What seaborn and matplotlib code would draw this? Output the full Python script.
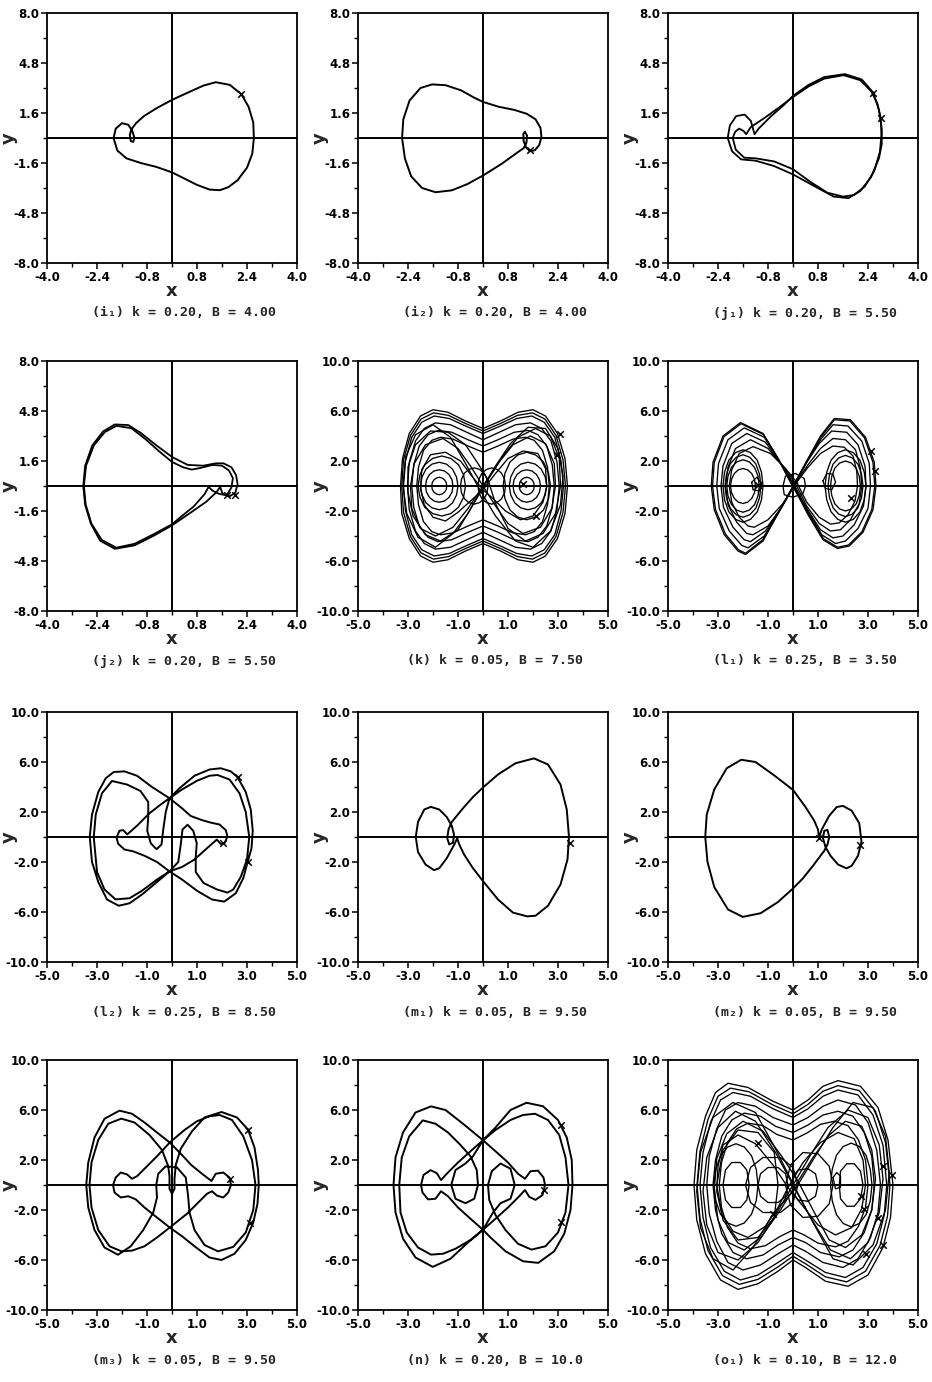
import matplotlib
matplotlib.use("Agg")
import matplotlib.pyplot as plt
import pandas as pd
import seaborn as sns
from matplotlib.ticker import MultipleLocator

I1 = [(2.22,2.8),(2.45,2.0),(2.6,1.0),(2.62,0.0),(2.57,-1.0),(2.4,-1.9),(2.1,-2.7),(1.8,-3.15),
      (1.53,-3.34),(1.2,-3.3),(0.8,-3.0),(0.35,-2.55),(0.0,-2.2),(-0.5,-1.85),(-1.0,-1.6),(-1.46,-1.3),
      (-1.75,-0.8),(-1.87,0.0),(-1.8,0.6),(-1.6,0.95),(-1.4,0.85),(-1.27,0.45),(-1.2,0.0),(-1.24,-0.25),
      (-1.32,-0.2),(-1.35,0.2),(-1.3,0.55),(-1.15,0.95),(-0.9,1.4),(-0.5,1.9),(0.0,2.44),(0.5,2.9),
      (1.0,3.35),(1.4,3.57),(1.85,3.4),(2.22,2.8)]
I1_MARK = [(2.22,2.8)]

I2 = [(-2.59,0),(-2.55,1.2),(-2.35,2.4),(-2.0,3.2),(-1.63,3.43),(-1.2,3.38),(-0.7,3.05),(-0.3,2.6),
      (0.0,2.31),(0.5,2.0),(1.0,1.8),(1.4,1.55),(1.68,1.2),(1.84,0.65),(1.87,0.05),(1.8,-0.45),
      (1.66,-0.78),(1.5,-0.85),(1.38,-0.6),(1.3,-0.2),(1.29,0.25),(1.34,0.4),(1.41,0.15),(1.39,-0.3),
      (1.3,-0.65),(1.05,-1.0),(0.6,-1.65),(0.0,-2.4),(-0.5,-2.95),(-1.0,-3.35),(-1.52,-3.47),
      (-1.95,-3.2),(-2.3,-2.45),(-2.5,-1.3),(-2.59,0)]
I2_MARK = [(1.5,-0.75)]

J1_A = [(2.57,2.9),(2.75,1.8),(2.84,0.6),(2.84,-0.4),(2.75,-1.3),(2.5,-2.5),(2.15,-3.4),(1.77,-3.85),
        (1.3,-3.75),(0.7,-3.1),(0.0,-2.33),(-0.6,-1.8),(-1.2,-1.45),(-1.66,-1.37),(-1.95,-0.85),
        (-2.09,0.0),(-2.02,0.8),(-1.82,1.4),(-1.55,1.5),(-1.35,1.1),(-1.23,0.24),(-1.1,0.6),(-0.7,1.4),
        (-0.3,2.1),(0.0,2.7),(0.5,3.4),(1.0,3.9),(1.66,4.09),(2.2,3.75),(2.57,2.9)]
J1_B = [(2.81,1.26),(2.83,0.2),(2.78,-0.9),(2.6,-2.1),(2.3,-3.1),(1.95,-3.65),(1.6,-3.75),(1.1,-3.5),
        (0.55,-2.8),(0.0,-2.0),(-0.6,-1.5),(-1.2,-1.3),(-1.56,-1.26),(-1.83,-0.75),(-1.93,0.0),
        (-1.85,0.4),(-1.72,0.6),(-1.58,0.45),(-1.5,0.24),(-1.35,0.7),(-0.9,1.3),(-0.45,1.95),(0.0,2.62),
        (0.5,3.3),(1.0,3.8),(1.62,4.02),(2.15,3.7),(2.5,3.0),(2.7,2.2),(2.81,1.26)]
J1_MARK = [(2.57,2.9),(2.81,1.26)]

J2_A = [(-2.84,0),(-2.78,1.3),(-2.55,2.6),(-2.2,3.5),(-1.83,3.94),(-1.4,3.9),(-1.0,3.4),(-0.5,2.6),
        (0.0,1.86),(0.5,1.35),(1.0,1.3),(1.4,1.45),(1.65,1.45),(1.9,1.2),(2.05,0.7),(2.1,0.1),
        (2.02,-0.45),(1.85,-0.65),(1.62,-0.5),(1.54,-0.06),(1.42,-0.4),(1.1,-1.0),(0.6,-1.7),(0.0,-2.52),
        (-0.6,-3.2),(-1.2,-3.8),(-1.83,-4.02),(-2.3,-3.5),(-2.6,-2.4),(-2.78,-1.2),(-2.84,0)]
J2_B = [(-2.82,0),(-2.75,1.3),(-2.5,2.6),(-2.15,3.45),(-1.78,3.85),(-1.3,3.7),(-0.85,3.0),(-0.4,2.2),
        (0.0,1.54),(0.35,1.2),(0.63,1.05),(0.9,1.15),(1.3,1.35),(1.6,1.3),(1.82,1.0),(1.95,0.5),
        (1.9,-0.1),(1.75,-0.6),(1.5,-0.5),(1.3,-0.3),(1.17,-0.06),(1.05,-0.5),(0.7,-1.3),(0.3,-1.95),
        (0.0,-2.45),(-0.6,-3.1),(-1.2,-3.7),(-1.78,-3.95),(-2.25,-3.45),(-2.58,-2.4),(-2.76,-1.2),(-2.82,0)]
J2_MARK = [(1.75,-0.6),(2.02,-0.6)]

# (k) chaotic: bow-tie rings, figure-eights and well loops
K_R1 = [(3.38,0),(3.28,-2.2),(2.98,-4.2),(2.5,-5.6),(2.0,-6.1),(1.4,-5.9),(0.7,-5.2),(0,-4.6),(-0.7,-5.2),
        (-1.4,-5.9),(-2.0,-6.1),(-2.5,-5.6),(-2.95,-4.2),(-3.25,-2.2),(-3.3,0),(-3.22,2.2),(-2.95,4.2),
        (-2.5,5.6),(-2.0,6.1),(-1.4,5.9),(-0.7,5.2),(0,4.6),(0.7,5.2),(1.4,5.9),(2.0,6.1),(2.5,5.6),
        (2.98,4.2),(3.28,2.2),(3.38,0)]
K_R2 = [(3.22,0),(3.12,-2.0),(2.87,-3.9),(2.45,-5.1),(1.95,-5.6),(1.35,-5.4),(0.7,-4.8),(0,-4.2),
        (-0.7,-4.8),(-1.35,-5.4),(-1.95,-5.6),(-2.45,-5.1),(-2.85,-3.9),(-3.1,-2.0),(-3.18,0),(-3.1,2.0),
        (-2.85,3.9),(-2.45,5.1),(-1.95,5.6),(-1.35,5.4),(-0.7,4.8),(0,4.2),(0.7,4.8),(1.35,5.4),
        (1.95,5.6),(2.45,5.1),(2.87,3.9),(3.12,2.0),(3.22,0)]
K_R3 = [(3.05,0),(2.96,-1.9),(2.72,-3.6),(2.35,-4.6),(1.9,-5.05),(1.3,-4.9),(0.65,-4.3),(0,-3.7),
        (-0.65,-4.3),(-1.3,-4.9),(-1.9,-5.05),(-2.35,-4.6),(-2.7,-3.6),(-2.95,-1.9),(-3.02,0),(-2.95,1.9),
        (-2.7,3.6),(-2.35,4.6),(-1.9,5.05),(-1.3,4.9),(-0.65,4.3),(0,3.7),(0.65,4.3),(1.3,4.9),
        (1.9,5.05),(2.35,4.6),(2.72,3.6),(2.96,1.9),(3.05,0)]
K_R4 = [(2.85,0),(2.77,-1.7),(2.55,-3.2),(2.2,-4.1),(1.8,-4.45),(1.25,-4.3),(0.6,-3.7),(0,-3.2),
        (-0.6,-3.7),(-1.25,-4.3),(-1.8,-4.45),(-2.2,-4.1),(-2.55,-3.2),(-2.77,-1.7),(-2.85,0),
        (-2.77,1.7),(-2.55,3.2),(-2.2,4.1),(-1.8,4.45),(-1.25,4.3),(-0.6,3.7),(0,3.2),(0.6,3.7),
        (1.25,4.3),(1.8,4.45),(2.2,4.1),(2.55,3.2),(2.77,1.7),(2.85,0)]
K_R5 = [(3.3,0),(3.2,-2.1),(2.92,-4.05),(2.48,-5.35),(1.98,-5.85),(1.38,-5.65),(0.7,-5.0),(0,-4.4),
        (-0.7,-5.0),(-1.38,-5.65),(-1.98,-5.85),(-2.48,-5.35),(-2.9,-4.05),(-3.18,-2.1),(-3.25,0),
        (-3.18,2.1),(-2.9,4.05),(-2.48,5.35),(-1.98,5.85),(-1.38,5.65),(-0.7,5.0),(0,4.4),(0.7,5.0),
        (1.38,5.65),(1.98,5.85),(2.48,5.35),(2.92,4.05),(3.2,2.1),(3.3,0)]
K_R6 = [(2.65,0),(2.58,-1.5),(2.38,-2.85),(2.05,-3.65),(1.7,-3.9),(1.2,-3.75),(0.6,-3.2),(0,-2.7),
        (-0.6,-3.2),(-1.2,-3.75),(-1.7,-3.9),(-2.05,-3.65),(-2.38,-2.85),(-2.58,-1.5),(-2.65,0),
        (-2.58,1.5),(-2.38,2.85),(-2.05,3.65),(-1.7,3.9),(-1.2,3.75),(-0.6,3.2),(0,2.7),(0.6,3.2),
        (1.2,3.75),(1.7,3.9),(2.05,3.65),(2.38,2.85),(2.58,1.5),(2.65,0)]
K_F1 = [(0,0),(0.6,1.8),(1.2,3.3),(1.9,4.0),(2.5,3.4),(2.85,1.8),(2.9,0),(2.75,-1.8),(2.3,-3.3),
        (1.6,-3.8),(1.0,-3.0),(0.5,-1.6),(0,0),(-0.5,1.6),(-1.0,3.0),(-1.6,3.8),(-2.3,3.3),(-2.75,1.8),
        (-2.9,0),(-2.85,-1.8),(-2.5,-3.4),(-1.9,-4.0),(-1.2,-3.3),(-0.6,-1.8),(0,0)]
K_F2 = [(0.2,0.5),(0.8,2.4),(1.4,3.9),(2.1,4.6),(2.7,4.0),(3.05,2.2),(3.1,0),(2.9,-2.2),(2.4,-3.8),
        (1.7,-4.4),(1.0,-3.4),(0.5,-1.4),(0.2,0.5),(-0.2,1.8),(-0.7,3.3),(-1.4,4.3),(-2.1,4.4),
        (-2.7,3.3),(-3.0,1.5),(-3.0,-0.5),(-2.8,-2.4),(-2.3,-3.9),(-1.7,-4.4),(-1.0,-3.5),(-0.4,-1.5),(0.2,0.5)]
K_F3 = [(0,-0.3),(0.5,1.0),(1.0,2.2),(1.6,2.8),(2.2,2.6),(2.5,1.4),(2.55,0),(2.4,-1.3),(2.0,-2.4),
        (1.5,-2.7),(0.9,-2.0),(0.4,-1.0),(0,-0.3),(-0.45,0.8),(-0.9,2.0),(-1.5,2.7),(-2.1,2.5),
        (-2.45,1.3),(-2.5,-0.2),(-2.35,-1.5),(-2.0,-2.5),(-1.5,-2.8),(-1.0,-2.1),(-0.5,-1.2),(0,-0.3)]
K_F4 = [(-0.1,-0.4),(0.5,1.6),(1.1,3.4),(1.8,4.7),(2.5,4.6),(3.0,3.0),(3.2,0.8),(3.1,-1.5),(2.7,-3.6),
        (2.0,-4.9),(1.3,-4.4),(0.5,-2.4),(-0.1,-0.4),(-0.7,1.8),(-1.3,3.9),(-2.0,4.9),(-2.7,4.1),
        (-3.1,2.3),(-3.2,0),(-3.05,-2.2),(-2.6,-4.1),(-1.9,-4.9),(-1.2,-3.8),(-0.6,-2.2),(-0.1,-0.4)]
K_O1 = [(-1.2,0),(-1.24,0.49),(-1.36,0.92),(-1.54,1.2),(-1.75,1.3),(-1.96,1.2),(-2.14,0.92),(-2.26,0.49),
        (-2.3,0),(-2.26,-0.49),(-2.14,-0.92),(-1.96,-1.2),(-1.75,-1.3),(-1.54,-1.2),(-1.36,-0.92),
        (-1.24,-0.49),(-1.2,0)]
K_O2 = [(-1.45,0),(-1.47,0.27),(-1.54,0.5),(-1.64,0.64),(-1.75,0.7),(-1.86,0.64),(-1.96,0.5),(-2.03,0.27),
        (-2.05,0),(-2.03,-0.27),(-1.96,-0.5),(-1.86,-0.64),(-1.75,-0.7),(-1.64,-0.64),(-1.54,-0.5),
        (-1.47,-0.27),(-1.45,0)]
K_O3 = [(-0.7,0),(-0.78,0.91),(-0.98,1.7),(-1.29,2.21),(-1.65,2.4),(-2.01,2.21),(-2.33,1.7),(-2.52,0.91),
        (-2.6,0),(-2.52,-0.91),(-2.33,-1.7),(-2.01,-2.21),(-1.65,-2.4),(-1.29,-2.21),(-0.98,-1.7),
        (-0.78,-0.91),(-0.7,0)]
K_O4 = [(2.3,0),(2.26,0.49),(2.14,0.92),(1.96,1.2),(1.75,1.3),(1.54,1.2),(1.36,0.92),(1.24,0.49),(1.2,0),
        (1.24,-0.49),(1.36,-0.92),(1.54,-1.2),(1.75,-1.3),(1.96,-1.2),(2.14,-0.92),(2.26,-0.49),(2.3,0)]
K_O5 = [(2.05,0),(2.03,0.27),(1.96,0.5),(1.86,0.64),(1.75,0.7),(1.64,0.64),(1.54,0.5),(1.47,0.27),
        (1.45,0),(1.47,-0.27),(1.54,-0.5),(1.64,-0.64),(1.75,-0.7),(1.86,-0.64),(1.96,-0.5),(2.03,-0.27),(2.05,0)]
K_O6 = [(2.7,0),(2.62,1.03),(2.42,1.92),(2.11,2.48),(1.75,2.7),(1.39,2.48),(1.08,1.92),(0.88,1.03),
        (0.8,0),(0.88,-1.03),(1.08,-1.92),(1.39,-2.48),(1.75,-2.7),(2.11,-2.48),(2.42,-1.92),(2.62,-1.03),(2.7,0)]
K_O7 = [(0.2,0),(0.16,0.55),(0.04,1.03),(-0.14,1.33),(-0.35,1.45),(-0.56,1.33),(-0.74,1.03),(-0.86,0.55),
        (-0.9,0),(-0.86,-0.55),(-0.74,-1.03),(-0.56,-1.33),(-0.35,-1.45),(-0.14,-1.33),(0.04,-1.03),
        (0.16,-0.55),(0.2,0)]
K_O8 = [(0.9,0),(0.86,0.55),(0.74,1.03),(0.56,1.33),(0.35,1.45),(0.14,1.33),(-0.04,1.03),(-0.16,0.55),
        (-0.2,0),(-0.16,-0.55),(-0.04,-1.03),(0.14,-1.33),(0.35,-1.45),(0.56,-1.33),(0.74,-1.03),
        (0.86,-0.55),(0.9,0)]
K_O9 = [(2.55,0),(2.49,0.72),(2.33,1.35),(2.09,1.75),(1.8,1.9),(1.51,1.75),(1.27,1.35),(1.11,0.72),
        (1.05,0),(1.11,-0.72),(1.27,-1.35),(1.51,-1.75),(1.8,-1.9),(2.09,-1.75),(2.33,-1.35),(2.49,-0.72),(2.55,0)]
K_O10 = [(-1.0,0),(-1.06,0.72),(-1.22,1.35),(-1.46,1.75),(-1.75,1.9),(-2.04,1.75),(-2.28,1.35),
         (-2.44,0.72),(-2.5,0),(-2.44,-0.72),(-2.28,-1.35),(-2.04,-1.75),(-1.75,-1.9),(-1.46,-1.75),
         (-1.22,-1.35),(-1.06,-0.72),(-1.0,0)]
K_MARK = [(3.08,4.2),(2.95,2.5),(2.1,-2.4),(1.6,0.2)]

# (l1) chaotic: nested figure-eights and well loops
L1_F1 = [(0,0),(0.6,2.2),(1.1,4.0),(1.65,5.4),(2.3,5.3),(2.9,3.9),(3.25,1.9),(3.32,0),(3.2,-1.9),
         (2.8,-3.7),(2.25,-4.8),(1.78,-5.0),(1.2,-4.3),(0.6,-2.3),(0,0),(-0.6,2.2),(-1.2,4.2),
         (-2.1,5.08),(-2.8,4.0),(-3.2,1.9),(-3.27,0),(-3.15,-1.9),(-2.75,-3.9),(-2.2,-5.2),(-1.9,-5.48),
         (-1.2,-4.4),(-0.6,-2.2),(0,0)]
L1_F1B = [(0.03,0.05),(0.62,2.15),(1.12,3.92),(1.66,5.3),(2.28,5.2),(2.86,3.85),(3.2,1.88),(3.27,0),
          (3.15,-1.88),(2.76,-3.65),(2.22,-4.72),(1.78,-4.9),(1.22,-4.22),(0.62,-2.25),(0.03,0.05),
          (-0.58,2.15),(-1.18,4.12),(-2.08,4.98),(-2.76,3.95),(-3.15,1.88),(-3.22,0),(-3.1,-1.88),
          (-2.7,-3.85),(-2.18,-5.1),(-1.9,-5.38),(-1.22,-4.32),(-0.58,-2.15),(0.03,0.05)]
L1_F2 = [(0.05,0.1),(0.6,2.1),(1.1,3.7),(1.6,4.9),(2.2,4.8),(2.75,3.6),(3.05,1.8),(3.1,0),(3.0,-1.8),
         (2.6,-3.4),(2.1,-4.4),(1.7,-4.6),(1.15,-3.9),(0.6,-2.0),(0.05,0.1),(-0.55,2.0),(-1.15,3.9),
         (-1.95,4.65),(-2.6,3.7),(-2.98,1.8),(-3.05,0),(-2.95,-1.8),(-2.55,-3.6),(-2.05,-4.75),
         (-1.8,-4.95),(-1.15,-4.0),(-0.55,-2.0),(0.05,0.1)]
L1_F3 = [(0,-0.1),(0.55,1.9),(1.05,3.4),(1.55,4.4),(2.15,4.3),(2.6,3.3),(2.88,1.6),(2.92,0),(2.82,-1.6),
         (2.45,-3.1),(2.0,-4.0),(1.6,-4.15),(1.1,-3.5),(0.55,-1.8),(0,-0.1),(-0.5,1.8),(-1.1,3.5),
         (-1.85,4.2),(-2.45,3.4),(-2.8,1.6),(-2.88,0),(-2.78,-1.7),(-2.4,-3.3),(-1.95,-4.3),(-1.7,-4.45),
         (-1.1,-3.6),(-0.5,-1.8),(0,-0.1)]
L1_F4 = [(0.1,0.2),(0.6,1.7),(1.1,3.0),(1.6,3.8),(2.1,3.7),(2.5,2.9),(2.7,1.4),(2.75,0),(2.65,-1.4),
         (2.3,-2.7),(1.9,-3.5),(1.5,-3.6),(1.05,-3.0),(0.55,-1.6),(0.1,0.2),(-0.4,1.6),(-1.0,3.0),
         (-1.7,3.7),(-2.3,3.0),(-2.6,1.5),(-2.7,0),(-2.6,-1.5),(-2.25,-2.9),(-1.85,-3.8),(-1.6,-3.9),
         (-1.0,-3.2),(-0.45,-1.7),(0.1,0.2)]
L1_F5 = [(0.15,0.3),(0.6,1.5),(1.1,2.6),(1.6,3.2),(2.05,3.1),(2.4,2.4),(2.55,1.2),(2.58,0),(2.48,-1.2),
         (2.2,-2.3),(1.85,-2.95),(1.5,-3.05),(1.05,-2.5),(0.55,-1.3),(0.15,0.3),(-0.3,1.4),(-0.9,2.6),
         (-1.6,3.15),(-2.15,2.6),(-2.45,1.3),(-2.55,0),(-2.45,-1.3),(-2.15,-2.5),(-1.8,-3.2),(-1.55,-3.3),
         (-1.0,-2.7),(-0.4,-1.4),(0.15,0.3)]
L1_O1 = [(-1.2,0),(-1.26,1.1),(-1.43,2.06),(-1.7,2.67),(-2.0,2.9),(-2.3,2.67),(-2.57,2.06),(-2.74,1.1),
         (-2.8,0),(-2.74,-1.1),(-2.57,-2.06),(-2.3,-2.67),(-2.0,-2.9),(-1.7,-2.67),(-1.43,-2.06),
         (-1.26,-1.1),(-1.2,0)]
L1_O2 = [(-1.35,0),(-1.4,0.8),(-1.54,1.49),(-1.75,1.93),(-2.0,2.1),(-2.25,1.93),(-2.46,1.49),(-2.6,0.8),
         (-2.65,0),(-2.6,-0.8),(-2.46,-1.49),(-2.25,-1.93),(-2.0,-2.1),(-1.75,-1.93),(-1.54,-1.49),
         (-1.4,-0.8),(-1.35,0)]
L1_O3 = [(-1.5,0),(-1.54,0.53),(-1.65,0.99),(-1.81,1.29),(-2.0,1.4),(-2.19,1.29),(-2.35,0.99),(-2.46,0.53),
         (-2.5,0),(-2.46,-0.53),(-2.35,-0.99),(-2.19,-1.29),(-2.0,-1.4),(-1.81,-1.29),(-1.65,-0.99),
         (-1.54,-0.53),(-1.5,0)]
L1_O4 = [(2.92,0),(2.85,1.1),(2.68,2.06),(2.41,2.67),(2.1,2.9),(1.79,2.67),(1.52,2.06),(1.35,1.1),(1.28,0),
         (1.35,-1.1),(1.52,-2.06),(1.79,-2.67),(2.1,-2.9),(2.41,-2.67),(2.68,-2.06),(2.85,-1.1),(2.92,0)]
L1_O5 = [(2.7,0),(2.65,0.76),(2.53,1.42),(2.33,1.84),(2.1,2.0),(1.87,1.84),(1.67,1.42),(1.55,0.76),(1.5,0),
         (1.55,-0.76),(1.67,-1.42),(1.87,-1.84),(2.1,-2.0),(2.33,-1.84),(2.53,-1.42),(2.65,-0.76),(2.7,0)]
L1_O6 = [(1.2,0.4),(1.35,1.0),(1.6,0.95),(1.7,0.3),(1.55,-0.3),(1.3,-0.2),(1.2,0.4)]
L1_O7 = [(-1.65,0.3),(-1.45,0.7),(-1.25,0.2),(-1.35,-0.4),(-1.6,-0.3),(-1.65,0.3)]
L1_O8 = [(-0.4,0),(-0.3,0.8),(0.1,1.0),(0.45,0.6),(0.5,0),(0.4,-0.6),(0.0,-0.9),(-0.35,-0.7),(-0.4,0)]
L1_O9 = [(2.8,0),(2.74,0.93),(2.6,1.74),(2.37,2.25),(2.1,2.45),(1.83,2.25),(1.6,1.74),(1.46,0.93),(1.4,0),
         (1.46,-0.93),(1.6,-1.74),(1.83,-2.25),(2.1,-2.45),(2.37,-2.25),(2.6,-1.74),(2.74,-0.93),(2.8,0)]
L1_O10 = [(-1.28,0),(-1.34,0.95),(-1.49,1.78),(-1.73,2.3),(-2.0,2.5),(-2.27,2.3),(-2.51,1.78),(-2.66,0.95),
          (-2.72,0),(-2.66,-0.95),(-2.51,-1.78),(-2.27,-2.3),(-2.0,-2.5),(-1.73,-2.3),(-1.49,-1.78),
          (-1.34,-0.95),(-1.28,0)]
L1_MARK = [(3.12,2.77),(3.26,1.2),(2.32,-0.96),(-1.4,0.1)]

L2 = [(2.62,4.8),(2.95,3.6),(3.15,2.2),(3.23,0.5),(3.18,-0.9),(3.03,-1.97),(2.85,-3.3),(2.55,-4.5),
      (2.09,-5.17),(1.6,-5.0),(1.0,-4.3),(0.4,-3.4),(-0.1,-2.75),(-0.6,-2.0),(-1.1,-1.5),(-1.55,-1.15),
      (-1.9,-1.0),(-2.15,-0.55),(-2.22,-0.05),(-2.1,0.5),(-1.95,0.55),(-1.79,0.21),
      (-1.4,0.9),(-0.9,1.9),(-0.45,2.6),(-0.1,3.1),(0.4,3.8),(1.0,4.5),(1.5,4.9),(1.82,4.96),(2.3,4.6),
      (2.7,3.5),(2.95,2.0),(3.09,0.0),(3.0,-1.8),(2.75,-3.2),(2.45,-4.2),(2.22,-4.45),(1.8,-4.2),
      (1.26,-3.68),(0.95,-2.8),(0.95,-1.6),(0.99,-0.5),(0.85,0.5),(0.62,0.98),(0.42,0.6),(0.35,-0.6),
      (0.25,-2.0),(-0.1,-2.75),(-0.6,-3.6),(-1.2,-4.6),(-1.7,-5.3),(-2.13,-5.5),
      (-2.6,-5.0),(-2.95,-3.6),(-3.2,-2.0),(-3.29,0.0),(-3.2,1.8),(-2.95,3.6),(-2.65,4.7),(-2.33,5.2),
      (-1.9,5.25),(-1.4,4.9),(-0.8,4.0),(-0.1,3.1),(0.4,2.3),(0.75,1.68),(1.2,1.35),(1.55,1.15),
      (1.9,1.0),(2.15,0.55),(2.22,0.05),(2.1,-0.5),(1.95,-0.55),(1.79,-0.21),
      (1.4,-0.9),(0.9,-1.8),(0.4,-2.4),(-0.1,-2.75),(-0.6,-3.4),(-1.2,-4.3),(-1.7,-4.9),(-2.26,-4.99),
      (-2.7,-4.2),(-3.0,-2.8),(-3.13,0.0),(-3.05,1.8),(-2.8,3.5),(-2.4,4.48),(-1.8,4.2),(-1.26,3.68),
      (-0.95,2.8),(-0.95,1.6),(-0.99,0.5),(-0.85,-0.5),(-0.62,-0.98),(-0.42,-0.6),(-0.35,0.6),
      (-0.25,2.0),(-0.1,3.1),(0.3,3.9),(0.9,4.9),(1.5,5.4),(1.95,5.5),(2.35,5.25),(2.62,4.8)]
L2_MARK = [(2.62,4.8),(2.02,-0.45),(3.03,-1.97)]

M1 = [(3.44,0),(3.38,-1.8),(3.1,-3.8),(2.6,-5.5),(2.1,-6.3),(1.77,-6.35),(1.2,-6.05),(0.6,-5.0),
      (0,-3.53),(-0.4,-2.5),(-0.76,-1.39),(-0.95,-0.6),(-1.03,-0.1),(-1.15,-0.6),(-1.45,-1.7),
      (-1.75,-2.5),(-1.96,-2.65),(-2.3,-2.2),(-2.6,-1.2),(-2.69,0),(-2.6,1.2),(-2.35,2.2),(-2.09,2.41),
      (-1.75,2.2),(-1.45,1.6),(-1.25,0.9),(-1.16,0.2),(-1.2,-0.45),(-1.35,-0.6),(-1.43,-0.1),
      (-1.38,0.6),(-1.25,1.2),(-0.8,2.3),(-0.4,3.2),(0,3.96),(0.6,5.0),(1.3,5.9),(2.04,6.29),
      (2.6,5.8),(3.1,4.2),(3.35,2.2),(3.44,0)]
M1_MARK = [(3.48,-0.5)]

M2 = [(-3.51,0),(-3.45,1.8),(-3.15,3.8),(-2.65,5.5),(-2.07,6.18),(-1.5,6.0),(-0.8,5.0),(0,3.77),
      (0.5,2.4),(0.85,1.3),(1.0,0.6),(1.04,-0.05),(1.15,0.6),(1.45,1.7),(1.75,2.4),(2.0,2.49),
      (2.35,2.1),(2.65,1.1),(2.74,-0.37),(2.6,-1.5),(2.35,-2.3),(2.14,-2.51),(1.8,-2.2),(1.5,-1.5),
      (1.3,-0.8),(1.2,-0.1),(1.25,0.5),(1.38,0.56),(1.45,0.0),(1.38,-0.6),(1.25,-1.1),(0.8,-2.3),
      (0.4,-3.3),(0,-4.12),(-0.6,-5.2),(-1.3,-6.1),(-2.01,-6.39),(-2.6,-5.8),(-3.15,-4.0),
      (-3.42,-2.0),(-3.51,0)]
M2_MARK = [(2.68,-0.64),(1.04,-0.1)]

M3 = [(3.04,4.44),(3.3,3.0),(3.44,1.2),(3.47,0.0),(3.42,-1.5),(3.25,-3.0),(2.95,-4.4),(2.5,-5.5),
      (1.98,-6.0),(1.5,-5.8),(0.9,-4.9),(0.4,-4.1),(-0.09,-3.4),(-0.6,-2.6),(-1.1,-1.8),(-1.45,-1.15),
      (-1.75,-0.9),(-2.05,-1.0),(-2.3,-0.6),(-2.36,0.0),(-2.25,0.6),(-2.05,1.0),(-1.8,0.85),(-1.6,0.5),
      (-1.4,0.7),(-1.1,1.3),(-0.6,2.3),(-0.09,3.4),(0.5,4.4),(1.0,5.1),(1.5,5.5),(1.91,5.6),(2.4,5.2),
      (2.85,3.9),(3.2,2.0),(3.34,0.0),(3.25,-2.0),(2.95,-3.8),(2.45,-4.95),(1.84,-5.31),(1.3,-4.8),
      (0.9,-3.6),(0.7,-2.2),(0.64,-0.8),(0.55,0.6),(0.2,1.4),(-0.25,1.5),(-0.55,0.9),(-0.63,0.0),
      (-0.6,-1.0),(-0.75,-2.2),(-1.15,-3.6),(-1.65,-4.9),(-2.16,-5.58),(-2.7,-5.0),(-3.1,-3.6),
      (-3.35,-1.8),(-3.43,0.0),(-3.35,1.8),(-3.1,3.8),(-2.7,5.3),(-2.1,5.95),(-1.6,5.7),(-1.1,5.0),
      (-0.6,4.2),(-0.09,3.4),(0.4,2.4),(0.77,1.6),(1.2,0.9),(1.58,0.32),(1.75,0.9),(2.05,1.0),
      (2.3,0.6),(2.36,0.0),(2.25,-0.6),(2.05,-1.0),(1.8,-0.85),(1.6,-0.5),(1.4,-0.7),(1.1,-1.3),
      (0.6,-2.3),(-0.09,-3.4),(-0.6,-4.2),(-1.1,-4.9),(-1.6,-5.25),(-2.03,-5.3),(-2.5,-4.9),
      (-2.95,-3.6),(-3.22,-1.8),(-3.3,0.0),(-3.22,1.8),(-2.95,3.6),(-2.55,4.9),(-2.03,5.31),(-1.5,5.0),
      (-0.9,4.0),(-0.4,2.8),(-0.15,1.5),(-0.1,0.7),(-0.1,-0.3),(0.0,-0.7),(0.1,-0.3),(0.1,0.5),
      (0.15,1.6),(0.35,2.9),(0.8,4.3),(1.3,5.4),(1.98,5.84),(2.6,5.4),(3.04,4.44)]
M3_MARK = [(3.04,4.44),(2.31,0.5),(3.11,-3.0)]

N = [(1.74,6.58),(2.4,6.3),(3.0,5.2),(3.35,3.8),(3.55,2.0),(3.58,0),(3.5,-2.0),(3.25,-3.9),(2.85,-5.3),
     (2.21,-6.23),(1.6,-6.1),(0.9,-5.3),(0.3,-4.2),(0,-3.58),(-0.5,-2.7),(-1.0,-1.8),(-1.4,-0.9),
     (-1.68,-0.5),(-1.9,-1.1),(-2.2,-1.15),(-2.42,-0.6),(-2.48,0),(-2.38,0.8),(-2.1,1.19),(-1.85,0.95),
     (-1.68,0.4),(-1.4,1.0),(-1.0,1.8),(-0.5,2.7),(0,3.58),(0.5,4.4),(1.1,5.2),(1.6,5.6),(2.08,5.7),
     (2.6,5.2),(3.05,4.0),(3.3,2.2),(3.42,0),(3.3,-2.2),(3.0,-3.8),(2.5,-4.9),(1.94,-5.17),(1.4,-4.7),
     (0.9,-3.6),(0.5,-2.4),(0.25,-1.2),(0.2,0),(0.35,1.1),(0.7,1.72),(1.1,1.3),(1.27,0),(1.1,-1.1),
     (0.7,-1.46),(0.4,-2.2),(0,-3.58),(-0.6,-4.6),(-1.3,-5.9),(-2.01,-6.55),(-2.7,-5.8),(-3.2,-4.3),
     (-3.5,-2.2),(-3.58,0),(-3.5,2.2),(-3.2,4.2),(-2.7,5.8),(-2.08,6.29),(-1.5,6.0),(-0.8,4.9),
     (0,3.58),(0.5,2.7),(1.0,1.8),(1.4,0.9),(1.68,0.5),(1.9,1.1),(2.2,1.15),(2.42,0.6),(2.48,0),
     (2.38,-0.8),(2.1,-1.19),(1.85,-0.95),(1.68,-0.4),(1.4,-1.0),(1.0,-1.8),(0.5,-2.7),(0,-3.58),
     (-0.5,-4.4),(-1.1,-5.1),(-1.6,-5.5),(-2.08,-5.57),(-2.6,-5.0),(-3.05,-3.8),(-3.3,-2.2),(-3.35,0),
     (-3.25,2.2),(-2.95,3.9),(-2.41,5.17),(-1.9,4.9),(-1.4,4.2),(-0.9,3.2),(-0.5,2.3),(-0.25,1.2),
     (-0.2,0),(-0.35,-1.1),(-0.7,-1.46),(-1.1,-1.1),(-1.27,0),(-1.1,1.2),(-0.7,1.72),(-0.4,2.3),
     (0,3.58),(0.5,4.6),(1.1,6.0),(1.74,6.58)]
N_MARK = [(3.12,4.77),(2.45,-0.4),(3.12,-2.92)]

# (o1) chaotic
O_R1 = [(4.0,0),(3.9,-2.6),(3.6,-5.0),(3.0,-7.2),(2.2,-8.1),(1.3,-7.7),(0.5,-6.6),(0,-6.0),(-0.6,-6.9),
        (-1.4,-7.9),(-2.2,-8.35),(-2.9,-7.6),(-3.5,-5.5),(-3.85,-2.8),(-3.96,0),(-3.85,2.8),(-3.5,5.5),
        (-3.1,7.4),(-2.6,8.14),(-1.8,7.8),(-0.8,6.7),(0,6.0),(0.6,6.8),(1.2,7.9),(1.8,8.35),(2.7,7.9),
        (3.4,6.2),(3.8,3.6),(4.0,0)]
O_R2 = [(3.75,0),(3.65,-2.4),(3.35,-4.7),(2.8,-6.6),(2.1,-7.4),(1.3,-7.0),(0.5,-6.0),(0,-5.4),
        (-0.6,-6.2),(-1.4,-7.2),(-2.1,-7.6),(-2.75,-6.9),(-3.3,-5.0),(-3.6,-2.6),(-3.72,0),(-3.6,2.6),
        (-3.3,5.0),(-2.9,6.8),(-2.4,7.4),(-1.7,7.1),(-0.8,6.1),(0,5.4),(0.6,6.1),(1.2,7.1),(1.8,7.6),
        (2.6,7.2),(3.2,5.6),(3.6,3.2),(3.75,0)]
O_R3 = [(3.5,0),(3.4,-2.2),(3.1,-4.2),(2.6,-5.9),(2.0,-6.6),(1.2,-6.2),(0.5,-5.3),(0,-4.8),(-0.6,-5.5),
        (-1.3,-6.4),(-2.0,-6.8),(-2.6,-6.2),(-3.05,-4.5),(-3.35,-2.3),(-3.45,0),(-3.35,2.3),(-3.05,4.5),
        (-2.7,6.0),(-2.2,6.6),(-1.5,6.3),(-0.8,5.4),(0,4.8),(0.6,5.4),(1.2,6.3),(1.8,6.8),(2.5,6.4),
        (3.0,5.0),(3.35,2.8),(3.5,0)]
O_R4 = [(3.25,0),(3.15,-2.0),(2.85,-3.8),(2.4,-5.2),(1.85,-5.75),(1.1,-5.4),(0.5,-4.6),(0,-4.2),
        (-0.6,-4.8),(-1.2,-5.6),(-1.85,-5.9),(-2.4,-5.4),(-2.85,-3.9),(-3.1,-2.0),(-3.2,0),(-3.1,2.0),
        (-2.85,3.9),(-2.45,5.2),(-1.95,5.75),(-1.3,5.5),(-0.7,4.7),(0,4.2),(0.6,4.8),(1.2,5.6),
        (1.8,5.9),(2.4,5.5),(2.85,4.2),(3.15,2.3),(3.25,0)]
O_R5 = [(3.88,0),(3.78,-2.5),(3.48,-4.85),(2.9,-6.9),(2.15,-7.75),(1.3,-7.35),(0.5,-6.3),(0,-5.7),
        (-0.6,-6.55),(-1.4,-7.55),(-2.15,-7.95),(-2.82,-7.25),(-3.4,-5.25),(-3.72,-2.7),(-3.84,0),
        (-3.72,2.7),(-3.4,5.25),(-3.0,7.1),(-2.5,7.75),(-1.75,7.45),(-0.8,6.4),(0,5.7),(0.6,6.45),
        (1.2,7.5),(1.8,7.95),(2.65,7.55),(3.3,5.9),(3.7,3.4),(3.88,0)]
O_R6 = [(3.0,0),(2.9,-1.8),(2.62,-3.3),(2.2,-4.5),(1.7,-4.95),(1.0,-4.65),(0.45,-4.0),(0,-3.6),
        (-0.55,-4.15),(-1.1,-4.85),(-1.7,-5.1),(-2.2,-4.65),(-2.62,-3.4),(-2.86,-1.8),(-2.95,0),
        (-2.86,1.8),(-2.62,3.4),(-2.25,4.5),(-1.8,4.95),(-1.2,4.75),(-0.65,4.05),(0,3.6),(0.55,4.15),
        (1.1,4.85),(1.65,5.1),(2.2,4.75),(2.62,3.6),(2.9,2.0),(3.0,0)]
O_F1 = [(0,0),(0.7,2.4),(1.4,4.6),(2.2,6.0),(3.0,5.4),(3.45,3.2),(3.6,0.5),(3.45,-2.2),(3.0,-4.6),
        (2.3,-5.9),(1.5,-5.2),(0.7,-2.6),(0,0),(-0.7,2.6),(-1.5,5.1),(-2.3,5.9),(-3.0,4.6),(-3.45,2.2),
        (-3.6,-0.5),(-3.45,-3.2),(-3.0,-5.4),(-2.2,-6.0),(-1.4,-4.6),(-0.7,-2.4),(0,0)]
O_F2 = [(0.2,0.3),(0.8,2.2),(1.45,4.0),(2.1,5.1),(2.75,4.7),(3.15,2.8),(3.3,0.5),(3.15,-2.0),(2.75,-4.0),
        (2.1,-5.0),(1.45,-4.4),(0.8,-2.0),(0.2,0.3),(-0.45,2.3),(-1.2,4.3),(-2.0,5.1),(-2.65,4.1),
        (-3.05,2.1),(-3.15,-0.4),(-3.0,-2.8),(-2.6,-4.6),(-1.95,-5.2),(-1.25,-4.1),(-0.5,-2.0),(0.2,0.3)]
O_F3 = [(-0.2,-0.2),(0.4,1.8),(1.1,3.4),(1.8,4.2),(2.45,3.7),(2.8,2.0),(2.9,0),(2.75,-1.9),(2.35,-3.4),
        (1.7,-4.0),(1.0,-3.2),(0.4,-1.7),(-0.2,-0.2),(-0.8,1.6),(-1.5,3.3),(-2.2,4.0),(-2.8,3.2),
        (-3.0,1.5),(-3.05,-0.5),(-2.85,-2.3),(-2.4,-3.7),(-1.8,-4.2),(-1.1,-3.3),(-0.6,-1.8),(-0.2,-0.2)]
O_F4 = [(0.1,-0.3),(0.8,2.0),(1.6,4.6),(2.4,6.6),(3.2,6.2),(3.7,3.9),(3.85,1.0),(3.7,-2.0),(3.2,-4.8),
        (2.4,-6.4),(1.6,-5.9),(0.8,-3.0),(0.1,-0.3),(-0.7,2.9),(-1.5,5.8),(-2.4,6.6),(-3.2,5.4),
        (-3.7,2.6),(-3.85,-0.5),(-3.7,-3.4),(-3.2,-5.9),(-2.4,-6.8),(-1.6,-5.0),(-0.8,-2.3),(0.1,-0.3)]
O_O1 = [(-1.4,0),(-1.47,1.25),(-1.66,2.34),(-1.95,3.04),(-2.28,3.3),(-2.61,3.04),(-2.9,2.34),(-3.09,1.25),
        (-3.16,0),(-3.09,-1.25),(-2.9,-2.34),(-2.61,-3.04),(-2.28,-3.3),(-1.95,-3.04),(-1.66,-2.34),
        (-1.47,-1.25),(-1.4,0)]
O_O2 = [(-1.75,0),(-1.85,1.2),(-2.1,1.8),(-2.45,1.8),(-2.7,1.2),(-2.8,0),(-2.7,-1.2),(-2.45,-1.8),
        (-2.1,-1.8),(-1.85,-1.2),(-1.75,0)]
O_O3 = [(3.16,0),(3.09,1.27),(2.92,2.38),(2.65,3.08),(2.33,3.35),(2.01,3.08),(1.74,2.38),(1.57,1.27),
        (1.5,0),(1.57,-1.27),(1.74,-2.38),(2.01,-3.08),(2.33,-3.35),(2.65,-3.08),(2.92,-2.38),(3.09,-1.27),(3.16,0)]
O_O4 = [(1.85,0),(1.9,1.1),(2.15,1.7),(2.45,1.7),(2.7,1.1),(2.8,0),(2.7,-1.1),(2.45,-1.7),(2.15,-1.7),
        (1.9,-1.1),(1.85,0)]
O_O5 = [(0.2,0),(0.0,1.4),(-0.5,2.2),(-1.2,2.2),(-1.7,1.4),(-1.9,0),(-1.7,-1.4),(-1.2,-2.2),(-0.5,-2.2),
        (0.0,-1.4),(0.2,0)]
O_O6 = [(-0.2,0),(-0.3,0.9),(-0.6,1.4),(-1.0,1.4),(-1.3,0.9),(-1.4,0),(-1.3,-0.9),(-1.0,-1.4),
        (-0.6,-1.4),(-0.3,-0.9),(-0.2,0)]
O_O7 = [(1.6,0),(1.45,1.5),(1.0,2.5),(0.4,2.6),(-0.1,1.6),(-0.3,0),(-0.1,-1.6),(0.4,-2.6),(1.0,-2.5),
        (1.45,-1.5),(1.6,0)]
O_O8 = [(1.0,0),(0.9,0.9),(0.6,1.3),(0.2,1.2),(0.0,0.6),(-0.05,0),(0.0,-0.6),(0.2,-1.2),(0.6,-1.3),
        (0.9,-0.9),(1.0,0)]
O_O9 = [(1.6,0.6),(1.75,1.0),(1.9,0.7),(1.9,-0.2),(1.7,-0.3),(1.6,0.6)]
O_O10 = [(-0.6,0),(-0.75,2.6),(-1.4,4.2),(-2.2,4.4),(-2.8,2.8),(-3.05,0),(-2.8,-2.8),(-2.2,-4.4),
         (-1.4,-4.2),(-0.75,-2.6),(-0.6,0)]
O_MARK = [(3.6,1.5),(3.95,0.8),(2.7,-0.9),(2.85,-1.9),(2.9,-5.5),(3.6,-4.8),(-1.4,3.4),(-0.8,-2.3),(3.4,-2.6)]

CAPTIONS = ["(i\u2081) k = 0.20, B = 4.00", "(i\u2082) k = 0.20, B = 4.00", "(j\u2081) k = 0.20, B = 5.50",
            "(j\u2082) k = 0.20, B = 5.50", "(k) k = 0.05, B = 7.50", "(l\u2081) k = 0.25, B = 3.50",
            "(l\u2082) k = 0.25, B = 8.50", "(m\u2081) k = 0.05, B = 9.50", "(m\u2082) k = 0.05, B = 9.50",
            "(m\u2083) k = 0.05, B = 9.50", "(n) k = 0.20, B = 10.0", "(o\u2081) k = 0.10, B = 12.0"]

X_TICKS_S = [-4.0, -2.4, -0.8, 0.8, 2.4, 4.0]
Y_TICKS_S = [-8.0, -4.8, -1.6, 1.6, 4.8, 8.0]
X_TICKS_L = [-5.0, -3.0, -1.0, 1.0, 3.0, 5.0]
Y_TICKS_L = [-10.0, -6.0, -2.0, 2.0, 6.0, 10.0]

PANELS = [
    ([I1], I1_MARK, False, 1.4),
    ([I2], I2_MARK, False, 1.4),
    ([J1_A, J1_B], J1_MARK, False, 1.3),
    ([J2_A, J2_B], J2_MARK, False, 1.3),
    ([K_R1, K_R2, K_R3, K_R4, K_R5, K_R6, K_F1, K_F2, K_F3, K_F4, K_O1, K_O2, K_O3, K_O4, K_O5, K_O6,
      K_O7, K_O8, K_O9, K_O10], K_MARK, True, 0.95),
    ([L1_F1, L1_F1B, L1_F2, L1_F3, L1_F4, L1_F5, L1_O1, L1_O2, L1_O3, L1_O4, L1_O5, L1_O6, L1_O7, L1_O8,
      L1_O9, L1_O10], L1_MARK, True, 0.95),
    ([L2], L2_MARK, True, 1.4),
    ([M1], M1_MARK, True, 1.4),
    ([M2], M2_MARK, True, 1.4),
    ([M3], M3_MARK, True, 1.4),
    ([N], N_MARK, True, 1.4),
    ([O_R1, O_R2, O_R3, O_R4, O_R5, O_R6, O_F1, O_F2, O_F3, O_F4, O_O1, O_O2, O_O3, O_O4, O_O5, O_O6,
      O_O7, O_O8, O_O9, O_O10], O_MARK, True, 0.95),
]

# ---------------- drawing ----------------
sns.set_theme(style="white")
plt.rcParams["font.family"] = ["DejaVu Sans"]

W, H = 932, 1382
fig = plt.figure(figsize=(W / 100, H / 100), dpi=100)
fig.patch.set_facecolor("white")
COL_LEFT = [47, 358, 668]
ROW_TOP = [13, 361, 712, 1060]
SIZE = 250

for idx, (curves, marks, large, lw) in enumerate(PANELS):
    r, c = divmod(idx, 3)
    left, top = COL_LEFT[c], ROW_TOP[r]
    ax = fig.add_axes([left / W, 1 - (top + SIZE) / H, SIZE / W, SIZE / H])
    ax.set_facecolor("white")
    rows = []
    for s, curve in enumerate(curves):
        for (px, py) in curve:
            rows.append((s, px, py))
    df = pd.DataFrame(rows, columns=["seg", "x", "y"])
    sns.lineplot(data=df, x="x", y="y", units="seg", estimator=None, sort=False,
                 color="black", lw=lw, ax=ax, legend=False)
    mdf = pd.DataFrame(marks, columns=["x", "y"])
    sns.scatterplot(data=mdf, x="x", y="y", marker="x", s=22, color="black", linewidth=1.1, ax=ax, legend=False)

    ax.axhline(0, color="black", lw=1.4, zorder=1)
    ax.axvline(0, color="black", lw=1.4, zorder=1)
    if large:
        xt, yt, xm, ym, xl, yl = X_TICKS_L, Y_TICKS_L, 1.0, 2.0, 5, 10
    else:
        xt, yt, xm, ym, xl, yl = X_TICKS_S, Y_TICKS_S, 0.8, 1.6, 4, 8
    ax.set_xlim(-xl, xl)
    ax.set_ylim(-yl, yl)
    ax.set_xticks(xt)
    ax.set_yticks(yt)
    ax.set_xticklabels([f"{v:.1f}" for v in xt], fontsize=8.5, fontweight="bold")
    ax.set_yticklabels([f"{v:.1f}" for v in yt], fontsize=8.5, fontweight="bold")
    ax.xaxis.set_minor_locator(MultipleLocator(xm))
    ax.yaxis.set_minor_locator(MultipleLocator(ym))
    ax.tick_params(which="major", direction="out", length=4, width=1.1, color="black", pad=1.5,
                   bottom=True, left=True, labelcolor="black")
    ax.tick_params(which="minor", direction="out", length=3, width=1.0, color="black",
                   bottom=True, left=True)
    for sp in ax.spines.values():
        sp.set_visible(True)
        sp.set_color("black")
        sp.set_linewidth(1.3)
    ax.set_xlabel("x", fontsize=13, fontweight="bold", labelpad=0)
    ax.set_ylabel("y", fontsize=13, fontweight="bold", labelpad=0)
    ax.xaxis.set_label_coords(0.5, -0.075)
    ax.yaxis.set_label_coords(-0.115, 0.5)
    fig.text((left + SIZE / 2 + 12) / W, 1 - (top + SIZE + 50) / H, CAPTIONS[idx],
             ha="center", va="center", fontsize=9.5, fontweight="bold", family="DejaVu Sans Mono")

fig.savefig("out.png", dpi=100, facecolor="white")
